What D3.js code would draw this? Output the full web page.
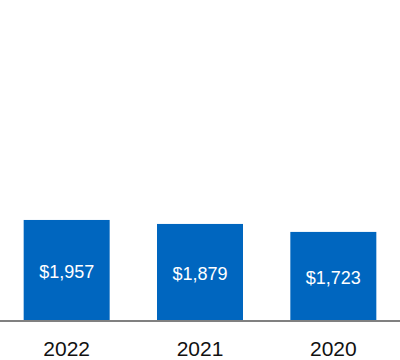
<!DOCTYPE html>
<html><head><meta charset="utf-8">
<script src="https://cdn.jsdelivr.net/npm/d3@7"></script>
<style>body{margin:0;background:#fff}svg{display:block}</style>
</head><body>
<script>
const categories = ["2022", "2021", "2020"];
const values = [1957, 1879, 1723];
const valueLabels = ["$1,957", "$1,879", "$1,723"];

const W = 400, H = 360;
const svg = d3.select("body").append("svg").attr("width", W).attr("height", H);
const x = d3.scaleBand().domain(categories).range([0, W]).paddingInner(0.355).paddingOuter(0.1775);
const y = d3.scaleLinear().domain([0, 6260]).range([320, 0]);

svg.selectAll("rect.bar").data(values).enter().append("rect")
  .attr("class", "bar")
  .attr("x", (d, i) => x(categories[i]))
  .attr("width", x.bandwidth())
  .attr("y", d => y(d))
  .attr("height", d => y(0) - y(d))
  .attr("fill", "#0066bf");

svg.selectAll("text.val").data(values).enter().append("text")
  .attr("x", (d, i) => x(categories[i]) + x.bandwidth() / 2)
  .attr("y", d => (y(d) + y(0)) / 2 + 3)
  .attr("text-anchor", "middle").attr("dominant-baseline", "middle")
  .attr("font-family", "Liberation Sans, Arial, sans-serif")
  .attr("font-size", 18).attr("fill", "#fff")
  .text((d, i) => valueLabels[i]);

const axis = svg.append("g").attr("transform", "translate(0,321)")
  .call(d3.axisBottom(x).tickSize(0).tickPadding(20));
axis.select(".domain").attr("stroke", "#808080").attr("stroke-width", 2).attr("d", "M0,0H400");
axis.selectAll("text").attr("font-family", "Liberation Sans, Arial, sans-serif")
  .attr("font-size", 21).attr("fill", "#111");
</script>
</body></html>
